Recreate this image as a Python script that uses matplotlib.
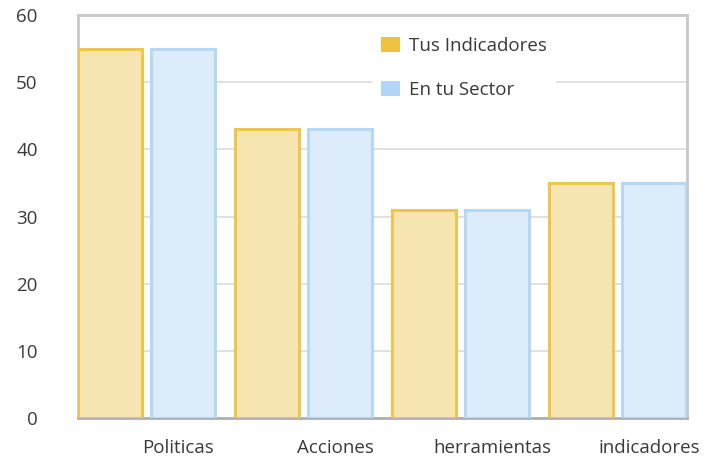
import numpy as np
import matplotlib.pyplot as plt
from matplotlib.patches import Patch

plt.rcParams['font.family'] = ['Open Sans', 'DejaVu Sans']

# Datos
categorias = ['Politicas', 'Acciones', 'herramientas', 'indicadores']
tus_indicadores = [55, 43, 31, 35]
en_tu_sector = [55, 43, 31, 35]

color_tus_fill = '#F7E5B1'
color_tus_edge = '#EDC64D'
color_sector_fill = '#DDECFA'
color_sector_edge = '#B5D8F5'

fig = plt.figure(figsize=(7.17, 4.58), dpi=100)
ax = fig.add_axes([78 / 717, 1 - 418 / 458, 609 / 717, 403 / 458])

x = np.arange(len(categorias))
ancho = 0.41
ax.bar(x, tus_indicadores, width=ancho, align='edge',
       color=color_tus_fill, edgecolor=color_tus_edge, linewidth=2.2, zorder=3)
ax.bar(x + 0.465, en_tu_sector, width=ancho, align='edge',
       color=color_sector_fill, edgecolor=color_sector_edge, linewidth=2.2, zorder=3)

ax.set_xlim(0, 3.88)
ax.set_ylim(0, 60)
ax.set_yticks(range(0, 61, 10))
ax.set_xticks(x + 0.64)
ax.set_xticklabels(categorias)
ax.tick_params(axis='both', length=0, labelsize=13.5, colors='#3a3a3a')
ax.tick_params(axis='y', pad=29)
ax.tick_params(axis='x', pad=15)
ax.grid(axis='y', color='#dcdcdc', linewidth=1.2, zorder=0)

for lado in ['top', 'left', 'right', 'bottom']:
    ax.spines[lado].set_color('#c8c8c8')
    ax.spines[lado].set_linewidth(2)
ax.spines['bottom'].set_color('#b0b0b0')

handles = [Patch(facecolor='#F0C243', edgecolor='none', label='Tus Indicadores'),
           Patch(facecolor='#B2D6F6', edgecolor='none', label='En tu Sector')]
leg = ax.legend(handles=handles, loc='upper left', bbox_to_anchor=(372 / 717, 1 - 28 / 458),
                bbox_transform=fig.transFigure, frameon=True, fontsize=13.5,
                handlelength=1.0, handleheight=0.85, handletextpad=0.45,
                labelspacing=1.35, borderpad=0.5, borderaxespad=0)
leg.get_frame().set_facecolor('white')
leg.get_frame().set_edgecolor('none')
leg.get_frame().set_alpha(1)
leg.set_zorder(5)
for t in leg.get_texts():
    t.set_color('#3a3a3a')

plt.savefig('out.png', dpi=100)
